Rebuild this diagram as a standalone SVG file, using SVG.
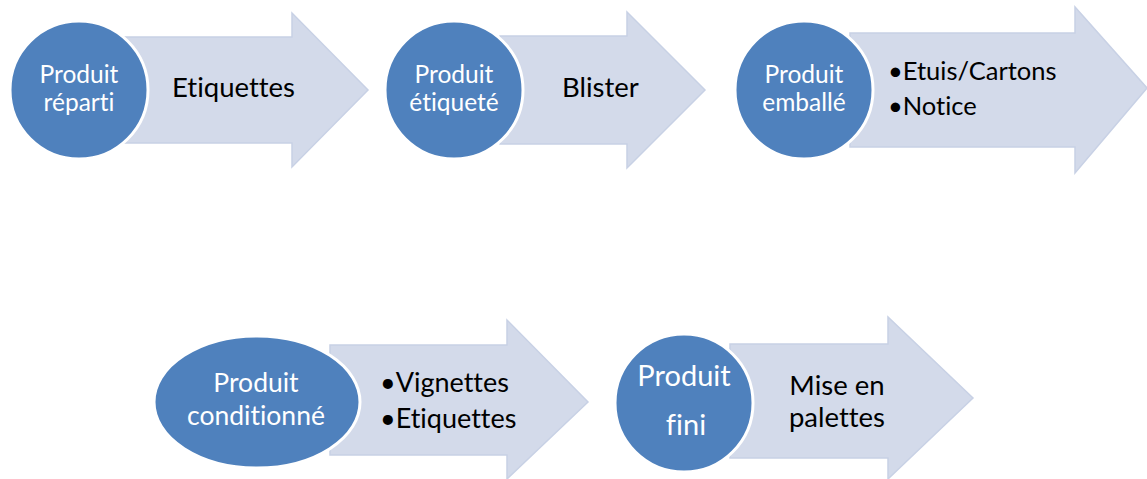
<svg xmlns="http://www.w3.org/2000/svg" width="1147" height="479" viewBox="0 0 1147 479">
<style>
.arrow{fill:#D3DAEA;stroke:#C8D1E5;stroke-width:1.5;stroke-linejoin:miter}
.node{fill:#4F81BD;stroke:#FFFFFF;stroke-width:3}
.nt{font-family:Lato,"Liberation Sans",sans-serif;fill:#FFFFFF;text-anchor:middle;font-variant-ligatures:none}
.at{font-family:Lato,"Liberation Sans",sans-serif;fill:#000000;font-variant-ligatures:none}
</style>
<rect width="1147" height="479" fill="#FFFFFF"/>
<g id="connectors">
<polygon class="arrow" points="120,37 292,37 292,13 368,90 292,167 292,143 120,143"/>
<polygon class="arrow" points="500,36 627,36 627,12 705,90 627,168 627,144 500,144"/>
<polygon class="arrow" points="850,33 1075,33 1075,7 1147,88 1075,173 1075,147 850,147"/>
<polygon class="arrow" points="330,345 507,345 507,320 588,402 507,479 507,455 330,455"/>
<polygon class="arrow" points="730,344 888,344 888,317 973,398 888,479 888,458 730,458"/>
</g>
<g id="node1">
<circle class="node" cx="79" cy="90" r="69"/>
<text class="nt" x="79" y="83" font-size="24.5">Produit</text>
<text class="nt" x="79" y="111" font-size="24.5">réparti</text>
</g>
<g id="label1"><text class="at" x="172" y="97" font-size="27.5">Etiquettes</text></g>
<g id="node2">
<circle class="node" cx="454" cy="90" r="69"/>
<text class="nt" x="454" y="83" font-size="24.5">Produit</text>
<text class="nt" x="454" y="111" font-size="24.5">étiqueté</text>
</g>
<g id="label2"><text class="at" x="562" y="97" font-size="27.5">Blister</text></g>
<g id="node3">
<circle class="node" cx="804" cy="90" r="69"/>
<text class="nt" x="804" y="83" font-size="24.5">Produit</text>
<text class="nt" x="804" y="111" font-size="24.5">emballé</text>
</g>
<g id="label3">
<text class="at" x="888" y="80" font-size="25.5">•Etuis/Cartons</text>
<text class="at" x="888" y="115" font-size="25.5">•Notice</text>
</g>
<g id="node4">
<ellipse class="node" cx="257" cy="402" rx="103" ry="66"/>
<text class="nt" x="256" y="392" font-size="26.5">Produit</text>
<text class="nt" x="256" y="425" font-size="26.5">conditionné</text>
</g>
<g id="label4">
<text class="at" x="380" y="392" font-size="27">•Vignettes</text>
<text class="at" x="380" y="428" font-size="27">•Etiquettes</text>
</g>
<g id="node5">
<circle class="node" cx="684" cy="403" r="69"/>
<text class="nt" x="684" y="386" font-size="29">Produit</text>
<text class="nt" x="686" y="435" font-size="29">fini</text>
</g>
<g id="label5">
<text class="at" x="837" y="395" font-size="27.5" text-anchor="middle">Mise en</text>
<text class="at" x="837" y="427" font-size="27.5" text-anchor="middle">palettes</text>
</g>
</svg>
